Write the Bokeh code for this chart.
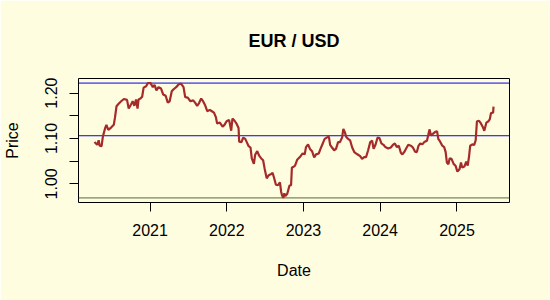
import pandas as pd
from bokeh.plotting import figure
from bokeh.models import (Range1d, FixedTicker, Span, DatetimeTickFormatter,
                          ColumnDataSource, PrintfTickFormatter)
from bokeh.embed import file_html
from bokeh.resources import INLINE

dates = [
    "2020-04-11", "2020-04-24", "2020-05-01", "2020-05-06", "2020-05-15", "2020-05-21",
    "2020-06-01", "2020-06-07", "2020-06-16", "2020-06-29", "2020-07-12", "2020-07-18",
    "2020-07-25", "2020-08-03", "2020-08-16", "2020-08-29", "2020-09-13", "2020-09-21",
    "2020-10-02", "2020-10-10", "2020-10-18", "2020-10-26", "2020-11-02", "2020-11-07",
    "2020-11-16", "2020-11-24", "2020-12-01", "2020-12-13", "2020-12-21", "2021-01-03",
    "2021-01-14", "2021-01-22", "2021-01-31", "2021-02-10", "2021-02-22", "2021-03-04",
    "2021-03-16", "2021-03-26", "2021-04-04", "2021-04-14", "2021-04-24", "2021-05-05",
    "2021-05-16", "2021-05-28", "2021-06-09", "2021-06-17", "2021-06-29", "2021-07-12",
    "2021-07-25", "2021-08-03", "2021-08-13", "2021-08-22", "2021-09-01", "2021-09-10",
    "2021-09-20", "2021-09-30", "2021-10-12", "2021-10-22", "2021-11-01", "2021-11-10",
    "2021-11-16", "2021-11-29", "2021-12-12", "2021-12-21", "2021-12-31", "2022-01-12",
    "2022-01-22", "2022-01-28", "2022-02-07", "2022-02-17", "2022-02-26", "2022-03-01",
    "2022-03-12", "2022-03-20", "2022-03-30", "2022-04-05", "2022-04-15", "2022-04-24",
    "2022-04-30", "2022-05-10", "2022-05-16", "2022-05-26", "2022-06-04", "2022-06-14",
    "2022-06-23", "2022-06-30", "2022-07-10", "2022-07-20", "2022-07-29", "2022-08-07",
    "2022-08-13", "2022-08-23", "2022-09-02", "2022-09-11", "2022-09-17", "2022-09-21",
    "2022-09-27", "2022-10-02", "2022-10-07", "2022-10-16", "2022-10-26", "2022-11-03",
    "2022-11-07", "2022-11-13", "2022-11-22", "2022-12-02", "2022-12-15", "2022-12-28",
    "2023-01-07", "2023-01-13", "2023-01-23", "2023-02-01", "2023-02-11", "2023-02-21",
    "2023-03-02", "2023-03-15", "2023-03-24", "2023-04-03", "2023-04-12", "2023-04-22",
    "2023-05-02", "2023-05-08", "2023-05-17", "2023-05-27", "2023-06-05", "2023-06-15",
    "2023-06-24", "2023-07-04", "2023-07-10", "2023-07-17", "2023-07-23", "2023-08-02",
    "2023-08-11", "2023-08-21", "2023-08-31", "2023-09-08", "2023-09-18", "2023-09-28",
    "2023-10-07", "2023-10-17", "2023-10-26", "2023-11-05", "2023-11-15", "2023-11-24",
    "2023-12-01", "2023-12-10", "2023-12-20", "2023-12-29", "2024-01-07", "2024-01-17",
    "2024-01-26", "2024-02-08", "2024-02-21", "2024-03-02", "2024-03-11", "2024-03-21",
    "2024-03-30", "2024-04-09", "2024-04-16", "2024-04-25", "2024-05-04", "2024-05-14",
    "2024-05-27", "2024-06-05", "2024-06-15", "2024-06-24", "2024-07-01", "2024-07-10",
    "2024-07-20", "2024-07-29", "2024-08-11", "2024-08-17", "2024-08-23", "2024-08-30",
    "2024-09-08", "2024-09-18", "2024-09-28", "2024-10-04", "2024-10-13", "2024-10-23",
    "2024-11-01", "2024-11-08", "2024-11-14", "2024-11-21", "2024-11-27", "2024-12-06",
    "2024-12-16", "2024-12-25", "2025-01-03", "2025-01-13", "2025-01-20", "2025-01-26",
    "2025-02-05", "2025-02-14", "2025-02-21", "2025-02-27", "2025-03-05", "2025-03-15",
    "2025-03-24", "2025-03-31", "2025-04-06", "2025-04-16", "2025-04-25", "2025-05-05",
    "2025-05-11", "2025-05-21", "2025-05-31", "2025-06-06", "2025-06-12", "2025-06-22",
    "2025-06-24",
]

prices = [
    1.092, 1.086, 1.096, 1.084, 1.083, 1.104,
    1.123, 1.130, 1.119, 1.124, 1.130, 1.147,
    1.171, 1.176, 1.182, 1.187, 1.185, 1.166,
    1.175, 1.182, 1.172, 1.186, 1.166, 1.186,
    1.188, 1.192, 1.212, 1.215, 1.222, 1.222,
    1.213, 1.218, 1.206, 1.213, 1.210, 1.197,
    1.194, 1.179, 1.182, 1.204, 1.209, 1.213,
    1.219, 1.221, 1.213, 1.191, 1.190, 1.182,
    1.184, 1.179, 1.172, 1.178, 1.188, 1.182,
    1.173, 1.160, 1.163, 1.160, 1.157, 1.147,
    1.133, 1.135, 1.126, 1.130, 1.138, 1.141,
    1.117, 1.144, 1.139, 1.132, 1.123, 1.093,
    1.092, 1.102, 1.099, 1.093, 1.083, 1.080,
    1.056, 1.044, 1.064, 1.072, 1.062, 1.056,
    1.052, 1.034, 1.012, 1.019, 1.021, 1.024,
    1.015, 0.998, 0.997, 1.003, 0.982, 0.975,
    0.969, 0.979, 0.973, 0.978, 0.996, 0.997,
    1.036, 1.037, 1.040, 1.053, 1.059, 1.067,
    1.065, 1.081, 1.087, 1.077, 1.072, 1.058,
    1.065, 1.067, 1.078, 1.089, 1.099, 1.102,
    1.104, 1.086, 1.080, 1.074, 1.077, 1.092,
    1.092, 1.102, 1.121, 1.114, 1.104, 1.099,
    1.096, 1.080, 1.070, 1.067, 1.064, 1.061,
    1.055, 1.059, 1.059, 1.074, 1.092, 1.095,
    1.077, 1.086, 1.102, 1.101, 1.089, 1.086,
    1.081, 1.078, 1.080, 1.086, 1.089, 1.081,
    1.084, 1.068, 1.065, 1.070, 1.078, 1.086,
    1.084, 1.080, 1.071, 1.070, 1.083, 1.089,
    1.087, 1.092, 1.095, 1.107, 1.120, 1.107,
    1.110, 1.114, 1.116, 1.099, 1.093, 1.084,
    1.081, 1.070, 1.047, 1.043, 1.056, 1.055,
    1.044, 1.040, 1.027, 1.032, 1.047, 1.036,
    1.038, 1.049, 1.040, 1.059, 1.084, 1.087,
    1.086, 1.096, 1.138, 1.139, 1.133, 1.124,
    1.117, 1.135, 1.138, 1.142, 1.156, 1.157,
    1.170,
]

mean_price = 1.106
tick_years = [2021, 2022, 2023, 2024, 2025]
y_major = [1.00, 1.10, 1.20]
y_minor = [1.05, 1.15]

BG = "#FFFDE0"
FONT = "Liberation Sans"

x = pd.to_datetime(dates)
src = ColumnDataSource(dict(x=x, y=prices))

xspan = x.max() - x.min()
x_start = x.min() - 0.04 * xspan
x_end = x.max() + 0.04 * xspan
ymin, ymax = min(prices), max(prices)
yspan = ymax - ymin

p = figure(width=550, height=300, x_axis_type="datetime",
           output_backend="svg", toolbar_location=None,
           x_range=Range1d(x_start, x_end),
           y_range=Range1d(ymin - 0.04 * yspan, ymax + 0.04 * yspan),
           min_border_left=78, min_border_right=41,
           min_border_top=78, min_border_bottom=98)

p.background_fill_color = BG
p.border_fill_color = BG
p.outline_line_color = "black"
p.outline_line_width = 1
p.outline_line_alpha = 1.0
p.xgrid.visible = False
p.ygrid.visible = False

p.title.text = "EUR / USD"
p.title.align = "center"
p.title.text_font = FONT
p.title.text_font_size = "18px"
p.title.text_font_style = "bold"
p.title.text_color = "black"
p.title.standoff = 55

for ln, col in [(ymax, "#0000EE"), (mean_price, "#0000EE"), (ymin, "#556B2F")]:
    p.add_layout(Span(location=ln, dimension="width", line_color=col,
                      line_width=1, level="underlay"))

p.line("x", "y", source=src, line_color="#A52A2A", line_width=2.2)

tick_ms = [pd.Timestamp(f"{yr}-01-01").timestamp() * 1000 for yr in tick_years]
p.xaxis.ticker = FixedTicker(ticks=tick_ms)
p.xaxis.formatter = DatetimeTickFormatter(years="%Y", months="%Y", days="%Y",
                                          hours="%Y", minutes="%Y")
p.yaxis.ticker = FixedTicker(ticks=y_major, minor_ticks=y_minor)
p.yaxis.formatter = PrintfTickFormatter(format="%.2f")
p.yaxis.major_label_orientation = "vertical"

for ax in (p.xaxis[0], p.yaxis[0]):
    ax.axis_line_color = None
    ax.major_tick_line_color = "black"
    ax.major_tick_out = 9
    ax.major_tick_in = 0
    ax.minor_tick_line_color = "black"
    ax.minor_tick_out = 9
    ax.minor_tick_in = 0
    ax.major_label_text_font = FONT
    ax.major_label_text_font_size = "16px"
    ax.major_label_text_color = "black"
    ax.axis_label_text_font = FONT
    ax.axis_label_text_font_size = "16px"
    ax.axis_label_text_font_style = "normal"
    ax.axis_label_text_color = "black"

p.xaxis.axis_label = "Date"
p.yaxis.axis_label = "Price"
p.xaxis.major_label_standoff = 12
p.xaxis.axis_label_standoff = 23
p.yaxis.major_label_standoff = 12
p.yaxis.axis_label_standoff = 22

open("out.html", "w").write(file_html(p, INLINE))
